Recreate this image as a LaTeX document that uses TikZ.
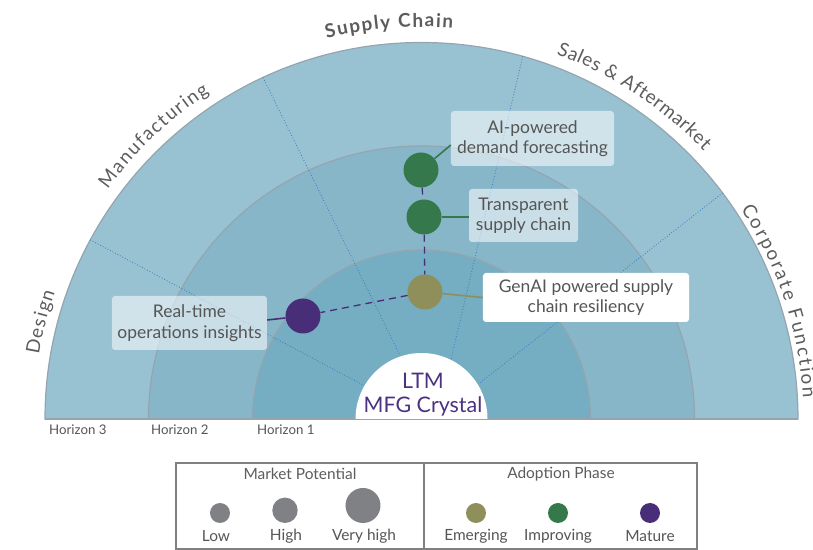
\documentclass[tikz,border=0pt]{standalone}
\usepackage{fontspec}
\setmainfont{Lato}
\usetikzlibrary{decorations.text}
\definecolor{ringA}{RGB}{152,193,209}
\definecolor{ringB}{RGB}{136,182,201}
\definecolor{ringC}{RGB}{117,173,194}
\definecolor{ringline}{RGB}{148,165,176}
\definecolor{sectline}{RGB}{55,125,190}
\definecolor{txtgray}{RGB}{85,85,85}
\definecolor{outgray}{RGB}{92,92,92}
\definecolor{purpleM}{RGB}{72,46,120}
\definecolor{greenI}{RGB}{52,120,75}
\definecolor{oliveE}{RGB}{142,143,90}
\definecolor{ltmpurple}{RGB}{75,50,130}
\definecolor{leggray}{RGB}{128,129,133}
\definecolor{legline}{RGB}{128,128,128}
\newcommand\outerfont{\fontsize{19}{22}\selectfont}
\newcommand\outerboldfont{\fontsize{19}{22}\selectfont\bfseries}
% #1 centre angle, #2 half span, #3 baseline radius, #4 format, #5 text
\newcommand\arclabel[5]{%
  \path[decorate,decoration={text along path,text align={fit to path},text color=outgray,
    text={|#4|#5}}]
    ({#1+#2}:#3) arc[start angle={#1+#2},end angle={#1-#2},radius=#3];}
\begin{document}
\begin{tikzpicture}[x=1bp,y=1bp,
  ring/.style={draw=ringline,line width=1.2bp},
  sector/.style={draw=sectline,dotted,line width=0.8bp},
  bubble/.style={circle,minimum size=35bp,inner sep=0pt},
  lbox/.style={rounded corners=3bp,fill=white,fill opacity=0.55,text opacity=1,
    align=center,text=txtgray,font=\fontsize{17.5}{20.5}\selectfont,inner sep=0pt},
  conn/.style={draw=purpleM,dashed,dash pattern=on 7bp off 5bp,line width=1.3bp},
  leader/.style={line width=1.6bp},
  horiz/.style={anchor=west,text=txtgray,font=\fontsize{13.3}{15}\selectfont,inner sep=0pt},
  legtitle/.style={text=outgray,font=\fontsize{15.5}{18}\selectfont,inner sep=0pt},
  legtext/.style={text=txtgray,font=\fontsize{15.5}{18}\selectfont,inner sep=0pt},
  legdot/.style={circle,inner sep=0pt}
]
\useasboundingbox (-421.5,-131) rectangle (391.5,419);
% rings
\filldraw[ring,fill=ringA] (-376.5,0) arc[start angle=180,end angle=0,radius=376.5] -- cycle;
\filldraw[ring,fill=ringB] (-273,0) arc[start angle=180,end angle=0,radius=273] -- cycle;
\filldraw[ring,fill=ringC] (-169,0) arc[start angle=180,end angle=0,radius=169] -- cycle;
\draw[ring] (-376.5,0) -- (376.5,0);
% sector lines
\draw[sector] (151.6:376.5) -- (149.8:67);
\draw[sector] (114.9:376.5) -- (108.6:67);
\draw[sector] (74.4:376.5) -- (63.8:67);
\draw[sector] (36.9:376.5) -- (31.6:67);
% center
\fill[white] (-66,0) arc[start angle=180,end angle=0,radius=66] -- cycle;
\node[text=ltmpurple,align=center,font=\fontsize{21.5}{24}\selectfont,inner sep=0pt] (ltm) at (1.5,24) {LTM\\MFG Crystal};
% outer labels
\arclabel{165.7}{4.8}{388}{\outerfont}{Design}
\arclabel{133.4}{10.4}{389}{\outerfont}{Manufacturing}
\arclabel{94.7}{9.3}{392}{\outerboldfont}{Supply Chain}
\arclabel{56.6}{13.1}{389}{\outerfont}{Sales {\&} Aftermarket}
\arclabel{18.2}{15.1}{382}{\outerfont}{Corporate Function}
% horizons
\node[horiz] (h3) at (-372.5,-11) {Horizon 3};
\node[horiz] (h2) at (-270.5,-11) {Horizon 2};
\node[horiz] (h1) at (-164.5,-11) {Horizon 1};
% bubbles
\node[bubble,fill=greenI] (ai) at (-0.5,249) {};
\node[bubble,fill=greenI] (tr) at (2.5,202) {};
\node[bubble,fill=oliveE] (ge) at (3.5,127) {};
\node[bubble,fill=purpleM] (rt) at (-118.5,103) {};
% dashed links
\draw[conn] (ai) -- (tr);
\draw[conn] (tr) -- (ge);
\draw[conn] (ge) -- (rt);
% label boxes
\node[lbox,minimum width=163bp,minimum height=55bp] (aib) at (111,280.5) {AI-powered\\demand forecasting};
\node[lbox,minimum width=109bp,minimum height=53bp] (trb) at (102,203.5) {Transparent\\supply chain};
\node[lbox,fill opacity=1,minimum width=206bp,minimum height=49bp] (geb) at (164.5,121.5) {GenAI powered supply\\chain resiliency};
\node[lbox,minimum width=155bp,minimum height=54bp] (rtb) at (-232,96) {Real-time\\operations insights};
% leaders
\draw[leader,greenI] (ai) -- ([yshift=-6.5bp]aib.west);
\draw[leader,greenI] (tr) -- (tr -| trb.west);
\draw[leader,oliveE] (ge) -- (geb.west);
\draw[leader,purpleM] ([yshift=3bp]rtb.east) -- (rt);
% legend
\draw[legline,line width=1.2bp] (-245.5,-44) rectangle (275.5,-130);
\draw[legline,line width=1.2bp] (2.5,-44) -- (2.5,-130);
\node[legtitle] (mp) at (-121.5,-55) {Market Potential};
\node[legtitle] (ap) at (139.5,-55) {Adoption Phase};
\node[legdot,fill=leggray,minimum size=20bp] (lowc) at (-201.5,-94) {};
\node[legdot,fill=leggray,minimum size=25.4bp] (highc) at (-136.5,-91.3) {};
\node[legdot,fill=leggray,minimum size=35bp] (vhc) at (-58.5,-86.5) {};
\node[legtext] (lowt) at (-205.5,-117) {Low};
\node[legtext] (hight) at (-135.5,-117) {High};
\node[legtext] (vht) at (-57.5,-117) {Very high};
\node[legdot,fill=oliveE,minimum size=20bp] (emc) at (54.5,-94) {};
\node[legdot,fill=greenI,minimum size=20bp] (imc) at (136.5,-94) {};
\node[legdot,fill=purpleM,minimum size=20bp] (mac) at (228.5,-94) {};
\node[legtext] (emt) at (54.5,-117) {Emerging};
\node[legtext] (imt) at (136.5,-117) {Improving};
\node[legtext] (mat) at (228.5,-117) {Mature};
\end{tikzpicture}
\end{document}
